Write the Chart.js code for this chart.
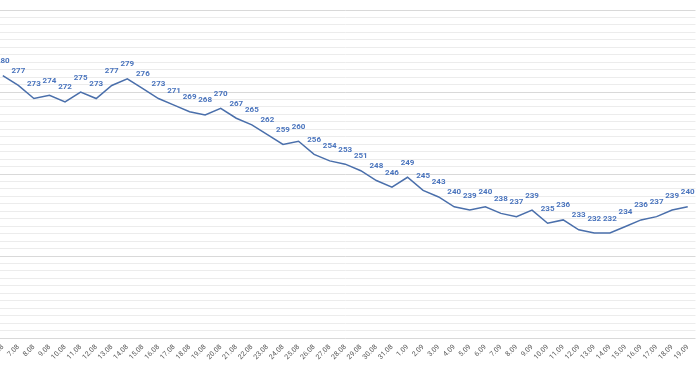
<!DOCTYPE html>
<html>
<head>
<meta charset="utf-8">
<script src="https://cdn.jsdelivr.net/npm/chart.js@4/dist/chart.umd.min.js"></script>
<style>
  html, body { margin: 0; padding: 0; background: #fff; }
  #wrap { width: 700px; height: 372px; overflow: hidden; position: relative; }
  #chart { position: absolute; left: -20px; top: 0; }
</style>
</head>
<body>
<div id="wrap"><canvas id="chart" width="720" height="372"></canvas></div>
<script>
const days = [
  '6.08', '7.08', '8.08', '9.08', '10.08', '11.08', '12.08', '13.08', '14.08', '15.08',
  '16.08', '17.08', '18.08', '19.08', '20.08', '21.08', '22.08', '23.08', '24.08', '25.08',
  '26.08', '27.08', '28.08', '29.08', '30.08', '31.08',
  '1.09', '2.09', '3.09', '4.09', '5.09', '6.09', '7.09', '8.09', '9.09', '10.09',
  '11.09', '12.09', '13.09', '14.09', '15.09', '16.09', '17.09', '18.09', '19.09'
];
const values = [
  280, 277, 273, 274, 272, 275, 273, 277, 279, 276,
  273, 271, 269, 268, 270, 267, 265, 262, 259, 260,
  256, 254, 253, 251, 248, 246,
  249, 245, 243, 240, 239, 240, 238, 237, 239, 235,
  236, 233, 232, 232, 234, 236, 237, 239, 240
];
const yMin = 200;
const yMax = 300;
const gridLines = 44;   // 4 major bands, 11 minor lines each

const valueLabels = {
  id: 'valueLabels',
  afterDatasetsDraw(chart) {
    const ctx = chart.ctx;
    const meta = chart.getDatasetMeta(0);
    ctx.save();
    ctx.font = 'bold 8px Roboto';
    ctx.fillStyle = '#4a74bd';
    ctx.textAlign = 'center';
    ctx.textBaseline = 'middle';
    meta.data.forEach((pt, i) => {
      ctx.fillText(values[i], pt.x, pt.y - 14.5);
    });
    ctx.restore();
  }
};

new Chart(document.getElementById('chart'), {
  type: 'line',
  data: {
    labels: days,
    datasets: [{
      data: values,
      borderColor: '#4a6fab',
      borderWidth: 1.5,
      pointRadius: 0,
      tension: 0,
      fill: false
    }]
  },
  options: {
    responsive: false,
    animation: false,
    layout: { padding: { left: 15, right: 4.5, top: 10, bottom: 0 } },
    plugins: {
      legend: { display: false },
      tooltip: { enabled: false }
    },
    scales: {
      x: {
        offset: true,
        grid: { display: false, drawTicks: false },
        border: { display: false },
        ticks: {
          autoSkip: false,
          minRotation: 45,
          maxRotation: 45,
          padding: 5,
          color: '#595959',
          font: { family: 'Roboto', size: 7 }
        },
        afterFit(s) { s.height = 34; s.paddingLeft = 0; s.paddingRight = 0; }
      },
      y: {
        min: yMin,
        max: yMax,
        afterBuildTicks(s) {
          const t = [];
          for (let i = 0; i <= gridLines; i++) t.push({ value: yMin + i * (yMax - yMin) / gridLines });
          s.ticks = t;
        },
        grid: {
          drawTicks: false,
          color: c => (c.index % 11 === 0 ? '#d9d9d9' : '#ececec'),
          lineWidth: 1
        },
        border: { display: false },
        ticks: { display: false },
        afterFit(s) { s.width = 0; }
      }
    }
  },
  plugins: [valueLabels]
});
</script>
</body>
</html>
